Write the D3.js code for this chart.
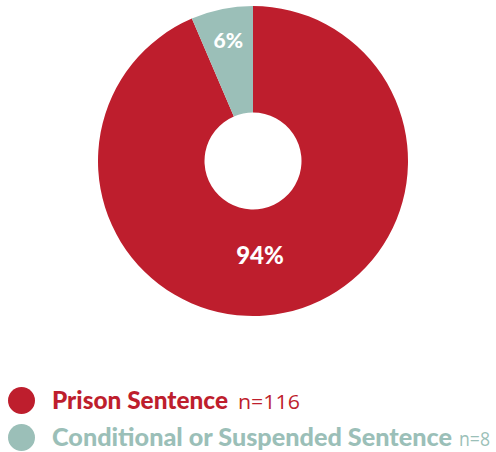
<!DOCTYPE html>
<html>
<head>
<meta charset="utf-8">
<script src="https://cdn.jsdelivr.net/npm/d3@7"></script>
<style>
  html, body { margin: 0; padding: 0; background: #fff; }
  svg { display: block; }
</style>
</head>
<body>
<svg id="chart" width="496" height="452"></svg>
<script>
// Sentencing outcomes
const categories = ["Prison Sentence", "Conditional or Suspended Sentence"];
const counts = [116, 8];
const percentLabels = ["94%", "6%"];
const countLabels = ["n=116", "n=8"];
const colors = ["#be1e2d", "#9bbfb8"];

const svg = d3.select("#chart");
const cx = 253, cy = 161;
const outerR = 155, innerR = 48.5;

const data = categories.map((c, i) => ({ name: c, value: counts[i], pct: percentLabels[i], n: countLabels[i], color: colors[i] }));

const pie = d3.pie().value(d => d.value).sort(null);
const arcs = pie(data);
const arc = d3.arc().innerRadius(innerR).outerRadius(outerR);

const g = svg.append("g").attr("transform", `translate(${cx},${cy})`);

// Small slice ends at 12 o'clock; the large slice runs clockwise from there
const smallSpan = arcs[1].endAngle - arcs[1].startAngle;
const slices = [
  { data: arcs[0].data, startAngle: 0, endAngle: 2 * Math.PI - smallSpan },
  { data: arcs[1].data, startAngle: -smallSpan, endAngle: 0 }
];

g.selectAll("path.slice")
  .data(slices)
  .join("path")
  .attr("class", "slice")
  .attr("d", arc)
  .attr("fill", d => d.data.color);

// Percentage labels
const labelArcSmall = d3.arc().innerRadius(123).outerRadius(123);
const cSmall = labelArcSmall.centroid(slices[1]);
g.append("text")
  .attr("x", cSmall[0])
  .attr("y", cSmall[1])
  .attr("dy", "0.35em")
  .attr("text-anchor", "middle")
  .attr("font-family", "Lato, 'Open Sans', sans-serif")
  .attr("font-weight", 900)
  .attr("font-size", 21)
  .attr("fill", "#fff")
  .text(slices[1].data.pct);

// Large slice label placed below the hole
const bigAngle = Math.PI - 0.074;
const bigR = 95;
g.append("text")
  .attr("x", bigR * Math.sin(bigAngle))
  .attr("y", -bigR * Math.cos(bigAngle))
  .attr("dy", "0.35em")
  .attr("text-anchor", "middle")
  .attr("font-family", "Lato, 'Open Sans', sans-serif")
  .attr("font-weight", 900)
  .attr("font-size", 24)
  .attr("fill", "#fff")
  .text(slices[0].data.pct);

// Legend
const legendY = d3.scalePoint().domain(categories).range([400.5, 437.5]);
const nameWidths = [176, 400];
const countX = [238, 459];
const countWidths = [62, 31];

const items = svg.append("g").selectAll("g.item")
  .data(data)
  .join("g")
  .attr("class", "item")
  .attr("transform", d => `translate(0,${legendY(d.name)})`);

items.append("circle")
  .attr("cx", 21.5)
  .attr("cy", 0)
  .attr("r", 13.5)
  .attr("fill", d => d.color);

items.append("text")
  .attr("x", 52)
  .attr("y", 8)
  .attr("font-family", "Lato, 'Open Sans', sans-serif")
  .attr("font-size", 25)
  .attr("font-weight", 900)
  .attr("textLength", (d, i) => nameWidths[i])
  .attr("lengthAdjust", "spacingAndGlyphs")
  .attr("fill", d => d.color)
  .text(d => d.name);

items.append("text")
  .attr("x", (d, i) => countX[i])
  .attr("y", 8)
  .attr("font-family", "'Open Sans', Lato, sans-serif")
  .attr("font-size", 20)
  .attr("font-weight", 400)
  .attr("textLength", (d, i) => countWidths[i])
  .attr("lengthAdjust", "spacingAndGlyphs")
  .attr("fill", d => d.color)
  .text(d => d.n);
</script>
</body>
</html>
